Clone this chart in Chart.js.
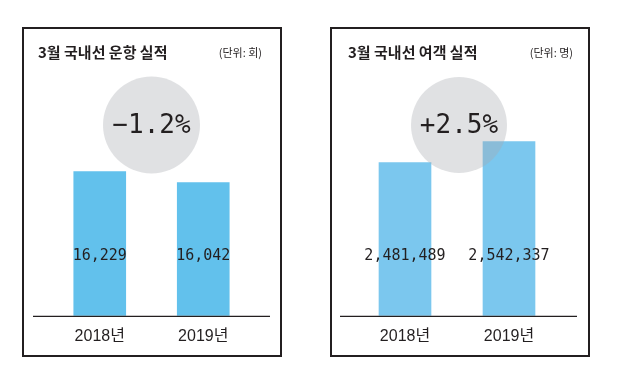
<!DOCTYPE html>
<html>
<head>
<meta charset="utf-8">
<script src="https://cdn.jsdelivr.net/npm/chart.js@4/dist/chart.umd.min.js"></script>
<style>
  html, body { margin: 0; padding: 0; background: #ffffff; }
  body { width: 623px; height: 382px; position: relative; overflow: hidden; }
  .panel { position: absolute; top: 27px; width: 260px; height: 330px; }
  .frame { position: absolute; top: 27px; width: 260px; height: 330px; box-sizing: border-box; border: 2px solid #231f20; pointer-events: none; }
</style>
</head>
<body>
<div class="panel" style="left:22px"><canvas id="c1" width="260" height="330"></canvas></div>
<div class="panel" style="left:330px"><canvas id="c2" width="260" height="330"></canvas></div>
<div class="frame" style="left:22px"></div>
<div class="frame" style="left:330px"></div>
<script>
// ---- data ----
const categories = ['2018년', '2019년'];
const flightValues = [16229, 16042];
const passengerValues = [2481489, 2542337];
const changeLabels = ['\u22121.2%', '+2.5%'];
const titles = ['3월 국내선 운항 실적', '3월 국내선 여객 실적'];
const units = ['(단위: 회)', '(단위: 명)'];
const axisMin = [13764, 2035274];
const axisMax = [17844, 2730674];

const INK = '#231f20';

const decorPlugin = {
  id: 'decor',
  afterDatasetsDraw(chart, args, opts) {
    const ctx = chart.ctx;
    const ca = chart.chartArea;
    ctx.save();
    // baseline
    ctx.strokeStyle = INK;
    ctx.lineWidth = 1.3;
    ctx.beginPath();
    ctx.moveTo(opts.lineLeft, ca.bottom + 0.5);
    ctx.lineTo(opts.lineRight, ca.bottom + 0.5);
    ctx.stroke();
    // circle
    ctx.fillStyle = 'rgba(166,169,175,0.35)';
    ctx.beginPath();
    ctx.arc(opts.cx, opts.cy, opts.r, 0, Math.PI * 2);
    ctx.fill();
    // change text
    ctx.fillStyle = INK;
    ctx.font = '26px "DejaVu Sans Mono"';
    ctx.textAlign = 'center';
    ctx.textBaseline = 'middle';
    ctx.fillText(opts.change, opts.cx, opts.cy + 1);
    // value labels
    ctx.font = '15px "DejaVu Sans Mono"';
    const meta = chart.getDatasetMeta(0);
    const data = chart.data.datasets[0].data;
    meta.data.forEach((bar, i) => {
      ctx.fillText(data[i].toLocaleString('en-US'), bar.x, ca.bottom - 60);
    });
    // title + unit
    ctx.textAlign = 'left';
    ctx.font = 'bold 15px "Noto Sans CJK KR"';
    ctx.fillText(opts.title, opts.titleX, 25);
    ctx.textAlign = 'right';
    ctx.font = '11px "Noto Sans CJK KR"';
    ctx.fillText(opts.unit, opts.unitRight, 26);
    ctx.restore();
  }
};

function makeChart(id, values, color, idx, pad, decor) {
  return new Chart(document.getElementById(id), {
    type: 'bar',
    data: {
      labels: categories,
      datasets: [{ data: values, backgroundColor: color, borderWidth: 0, barThickness: 52 }]
    },
    options: {
      responsive: false,
      animation: false,
      devicePixelRatio: 1,
      layout: { padding: pad },
      plugins: {
        legend: { display: false },
        tooltip: { enabled: false },
        decor: Object.assign({ change: changeLabels[idx], title: titles[idx], unit: units[idx] }, decor)
      },
      scales: {
        x: {
          grid: { display: false, drawTicks: false },
          border: { display: false },
          ticks: { color: INK, padding: 11, font: { family: '"Liberation Sans", "Noto Sans CJK KR"', size: 16 } }
        },
        y: { display: false, min: axisMin[idx], max: axisMax[idx] }
      }
    },
    plugins: [decorPlugin]
  });
}

makeChart('c1', flightValues, '#62c1ec', 0,
  { top: 50, left: 26, right: 27, bottom: 0 },
  { lineLeft: 11, lineRight: 248, cx: 129.5, cy: 98, r: 48.5, titleX: 16, unitRight: 240 });
makeChart('c2', passengerValues, '#7bc7ee', 1,
  { top: 50, left: 23, right: 29, bottom: 0 },
  { lineLeft: 10, lineRight: 247, cx: 129, cy: 98, r: 48, titleX: 18, unitRight: 243 });
</script>
</body>
</html>
